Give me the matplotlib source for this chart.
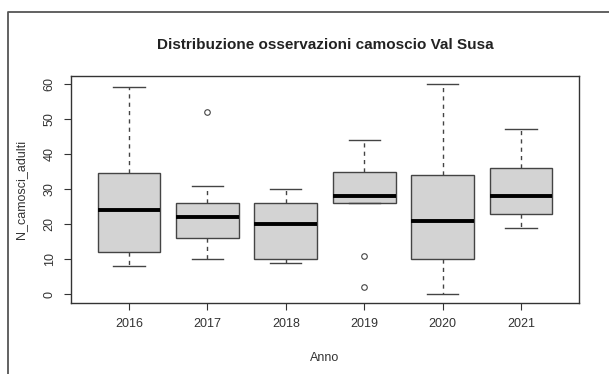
import matplotlib
matplotlib.use('Agg')
import matplotlib.pyplot as plt
from matplotlib.lines import Line2D

# Dati (statistiche dei boxplot)
anni = ['2016', '2017', '2018', '2019', '2020', '2021']
baffo_inf = [8, 10, 9, 26, 0, 19]
q1 = [12, 16, 10, 26, 10, 23]
mediana = [24, 22, 20, 28, 21, 28]
q3 = [34.5, 26, 26, 35, 34, 36]
baffo_sup = [59, 31, 30, 44, 60, 47]
outlier = [[], [52], [], [11, 2], [], []]

plt.rcParams['font.family'] = ['Liberation Sans', 'DejaVu Sans']

fig = plt.figure(figsize=(6.09, 3.74), dpi=100)
W, H = 609, 374
ax = fig.add_axes([71 / W, 1 - 302.7 / H, (579 - 71) / W, (302.7 - 75.5) / H])

# cornice dell'immagine
fig.add_artist(Line2D([8 / W, 8 / W, 1], [0, 1 - 12 / H, 1 - 12 / H],
                      color='#555555', lw=1.3))

stats = []
for i in range(len(anni)):
    stats.append({'label': anni[i], 'whislo': baffo_inf[i], 'q1': q1[i],
                  'med': mediana[i], 'q3': q3[i], 'whishi': baffo_sup[i],
                  'fliers': outlier[i]})

ax.bxp(stats, positions=range(1, len(anni) + 1), widths=0.8, patch_artist=True,
       boxprops=dict(facecolor='#D3D3D3', edgecolor='#444444', lw=1.0),
       medianprops=dict(color='black', lw=2.8, solid_capstyle='butt'),
       whiskerprops=dict(color='#444444', lw=1.0, linestyle=(0, (3, 3))),
       capprops=dict(color='#444444', lw=1.0),
       capwidths=0.4,
       flierprops=dict(marker='o', markersize=4, markerfacecolor='none',
                       markeredgecolor='#444444', markeredgewidth=0.8))

ax.set_xlim(0.26, 6.74)
ax.set_ylim(-2.4, 62.4)
ax.set_yticks(range(0, 61, 10))
ax.set_yticklabels([str(v) for v in range(0, 61, 10)], rotation=90, va='center')
ax.set_xticks(range(1, len(anni) + 1))
ax.set_xticklabels(anni)
ax.tick_params(colors='#333333', labelsize=9, length=5, width=0.8, pad=6)
for s in ax.spines.values():
    s.set_color('#333333')
    s.set_linewidth(1.0)

ax.set_xlabel('Anno', fontsize=9, color='#333333', labelpad=16)
ax.set_ylabel('N_camosci_adulti', fontsize=9, color='#333333', labelpad=12)
ax.set_title('Distribuzione osservazioni camoscio Val Susa', fontsize=11,
             fontweight='bold', color='#222222', pad=19)

fig.savefig('out.png', dpi=100)
